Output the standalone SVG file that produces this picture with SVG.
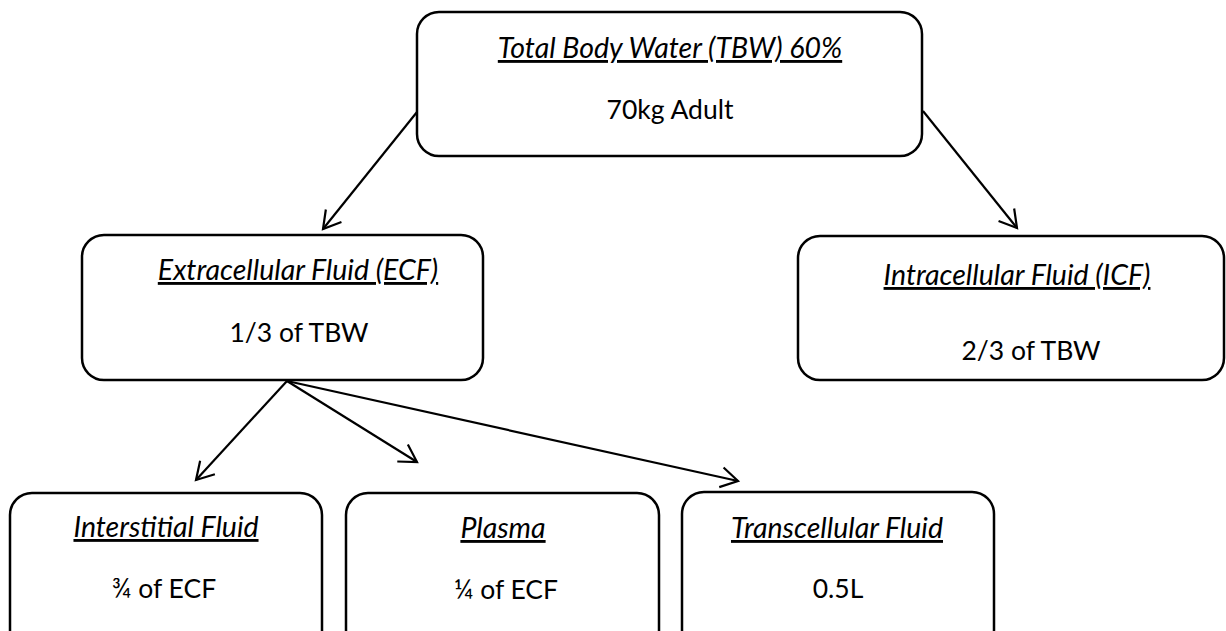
<svg xmlns="http://www.w3.org/2000/svg" width="1226" height="631" viewBox="0 0 1226 631">
<defs>
<style>
.box{fill:#fff;stroke:#000;stroke-width:2.5}
.t{font-family:Lato,"Liberation Sans",sans-serif;font-size:26.5px;fill:#000;text-anchor:middle}
.h{font-style:italic;font-size:28.5px;text-decoration:underline}
.c{stroke:#000;stroke-width:2.2;fill:none;marker-end:url(#ah)}
</style>
<marker id="ah" markerUnits="userSpaceOnUse" markerWidth="30" markerHeight="30" viewBox="-20 -15 25 30" refX="0" refY="0" orient="auto">
<path d="M-17,-10 L0,0 L-17,10" fill="none" stroke="#000" stroke-width="2.2"/>
</marker>
</defs>
<rect width="1226" height="631" fill="#fff"/>
<g id="connectors">
<line class="c" x1="417" y1="112" x2="323" y2="229"/>
<line class="c" x1="923" y1="111" x2="1017" y2="228"/>
<line class="c" x1="287" y1="381" x2="196" y2="480"/>
<line class="c" x1="287" y1="381" x2="417" y2="462"/>
<line class="c" x1="287" y1="381" x2="738" y2="481"/>
</g>
<g id="tbw">
<rect class="box" x="417" y="12" width="505" height="144" rx="22"/>
<text class="t h" x="670" y="58">Total Body Water (TBW) 60%</text>
<text class="t" x="670" y="119">70kg Adult</text>
</g>
<g id="ecf">
<rect class="box" x="82" y="235" width="401" height="145" rx="22"/>
<text class="t h" x="298" y="280">Extracellular Fluid (ECF)</text>
<text class="t" x="299" y="342">1/3 of TBW</text>
</g>
<g id="icf">
<rect class="box" x="798" y="236" width="426" height="144" rx="22"/>
<text class="t h" x="1017" y="285">Intracellular Fluid (ICF)</text>
<text class="t" x="1031" y="360">2/3 of TBW</text>
</g>
<g id="interstitial">
<rect class="box" x="10" y="493" width="312" height="160" rx="22"/>
<text class="t h" x="166" y="537">Interstitial Fluid</text>
<text class="t" x="164" y="598">¾ of ECF</text>
</g>
<g id="plasma">
<rect class="box" x="346" y="493" width="313" height="160" rx="22"/>
<text class="t h" x="503" y="538">Plasma</text>
<text class="t" x="506" y="599">¼ of ECF</text>
</g>
<g id="transcellular">
<rect class="box" x="682" y="492" width="312" height="160" rx="22"/>
<text class="t h" x="837" y="538">Transcellular Fluid</text>
<text class="t" x="838" y="598">0.5L</text>
</g>
</svg>
